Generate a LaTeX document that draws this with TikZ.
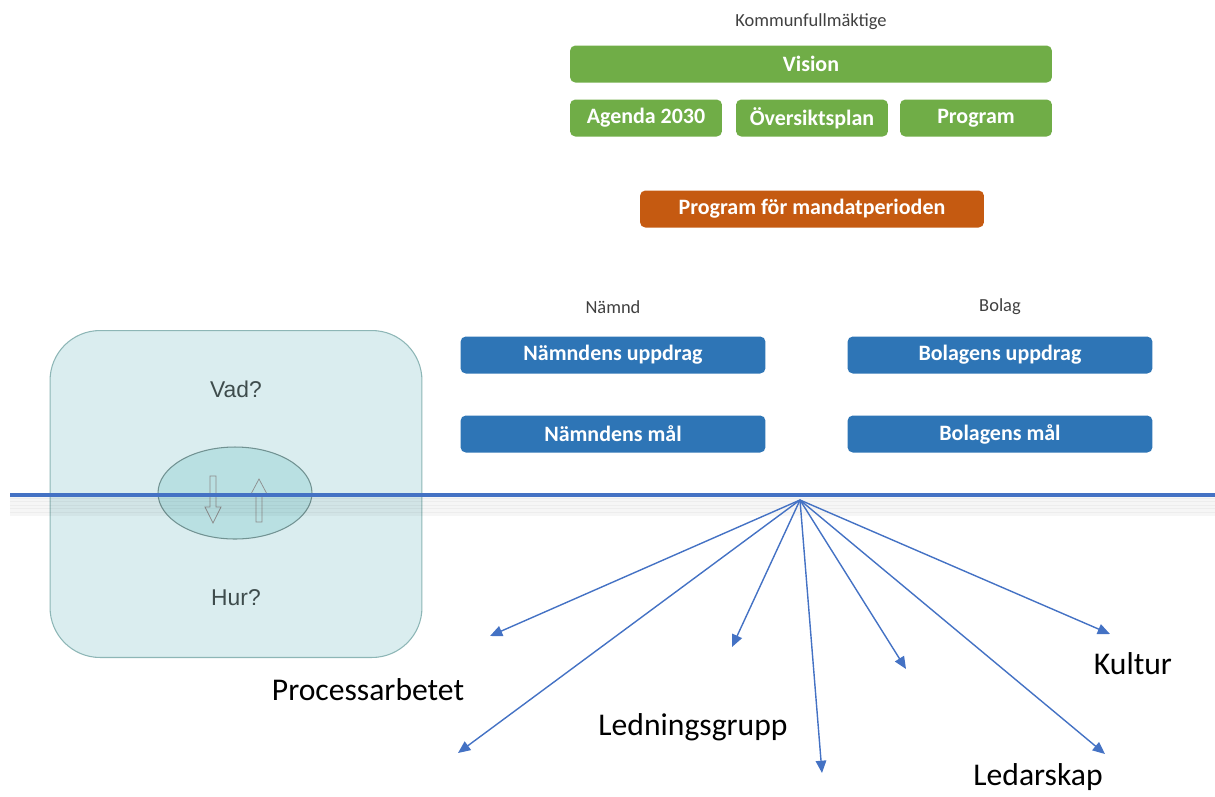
\documentclass[tikz,border=0pt]{standalone}
\usepackage{fontspec}
\setmainfont{Carlito}
\newfontfamily\arialfont{Liberation Sans}
\usepackage{xcolor}
\usetikzlibrary{arrows.meta,shapes.geometric}

\definecolor{kfgreen}{HTML}{70AD47}
\definecolor{kforange}{HTML}{C55A11}
\definecolor{kfblue}{HTML}{2E75B6}
\definecolor{linjeblue}{HTML}{4472C4}
\definecolor{ljusfill}{HTML}{DAEDEF}
\definecolor{ljusdraw}{HTML}{8DB6B6}
\definecolor{ovalfill}{HTML}{B9E0E2}
\definecolor{textgrey}{HTML}{3E4C4C}

\begin{document}
\begin{tikzpicture}[
            x = 0.02cm, y = -0.02cm, % pixel grid of the page
            > = {Triangle[length=7pt,width=6pt]}, % arrow head style
            semithick, % line style
            box/.style = {rounded corners=3pt, text=white, inner sep=0pt,
                          minimum height=0.74cm, font=\bfseries\fontsize{12.5}{14}\selectfont},
            greenbox/.style = {box, fill=kfgreen},
            bluebox/.style = {box, fill=kfblue, minimum width=6.1cm},
            rubrik/.style = {font=\fontsize{10.5}{12}\selectfont, text=black!75},
            etikett/.style = {font=\fontsize{18}{20}\selectfont, text=black},
            fraga/.style = {font=\arialfont\fontsize{13}{15}\selectfont, text=textgrey},
            pil/.style = {->, linjeblue, thick},
            tom/.style = {draw=black!45, fill=ovalfill, thin}
        ]

\useasboundingbox (0,0) rectangle (1215,796);

% Kommunfullmaktige
\node[rubrik] (KF) at (811,22) {Kommunfullmäktige};
\node[greenbox, minimum width=9.64cm] (Vision) at (811,64) {Vision};
\node[greenbox, minimum width=3.04cm] (Agenda) at (646,118) {Agenda 2030};
\node[greenbox, minimum width=3.04cm] (OP) at (812,118) {Översiktsplan};
\node[greenbox, minimum width=3.04cm] (Program) at (976,118) {Program};
\node[box, fill=kforange, minimum width=6.88cm] (Mandat) at (812,209) {Program för mandatperioden};

% Namnd och bolag
\node[rubrik] (Namnd) at (613,307) {Nämnd};
\node[rubrik] (Bolag) at (1000,307) {Bolag};
\node[bluebox] (NU) at (613,355) {Nämndens uppdrag};
\node[bluebox] (NM) at (613,434) {Nämndens mål};
\node[bluebox] (BU) at (1000,355) {Bolagens uppdrag};
\node[bluebox] (BM) at (1000,434) {Bolagens mål};

% Vad och hur
\node[draw=ljusdraw, fill=ljusfill, rounded corners=1cm,
      minimum width=7.44cm, minimum height=6.54cm] (VH) at (236,494) {};
\node[fraga] (Vad) at (236,389) {Vad?};
\node[fraga] (Hur) at (236,598) {Hur?};
\node[ellipse, draw=ljusdraw!80!black, fill=ovalfill,
      minimum width=3.08cm, minimum height=1.84cm] (Oval) at (235,493) {};
% tomma pilar
\draw[tom] (210,476) -- (216,476) -- (216,507) -- (221,507) -- (213,523)
    -- (205,507) -- (210,507) -- cycle;
\draw[tom] (256,522) -- (262,522) -- (262,494) -- (267,494) -- (259,479)
    -- (251,494) -- (256,494) -- cycle;

% linjen
\coordinate (LinjeV) at (10,495);
\coordinate (LinjeH) at (1215,495);
\foreach \i in {1,...,14}
    \draw[black, opacity=0.035, line width=1pt] ([yshift=-\i*0.8pt]LinjeV) -- ([yshift=-\i*0.8pt]LinjeH);
\draw[linjeblue, line width=2.2pt] (LinjeV) -- (LinjeH);

% pilar
\coordinate (Nav) at (800,500);
\coordinate (P1) at (490,636);
\coordinate (P2) at (458,753);
\coordinate (P3) at (732,647);
\coordinate (P4) at (822,773);
\coordinate (P5) at (906,669);
\coordinate (P6) at (1105,754);
\coordinate (P7) at (1110,634);

\foreach \p in {P1,P2,P3,P4,P5,P6,P7}
    \draw[pil] (Nav) -- (\p);

\node[etikett] (Process) at (368,690) {Processarbetet};
\node[etikett] (Ledning) at (693,727) {Ledningsgrupp};
\node[etikett] (Kultur) at (1133,664) {Kultur};
\node[etikett] (Ledarskap) at (1038,777) {Ledarskap};
\end{tikzpicture}
\end{document}
